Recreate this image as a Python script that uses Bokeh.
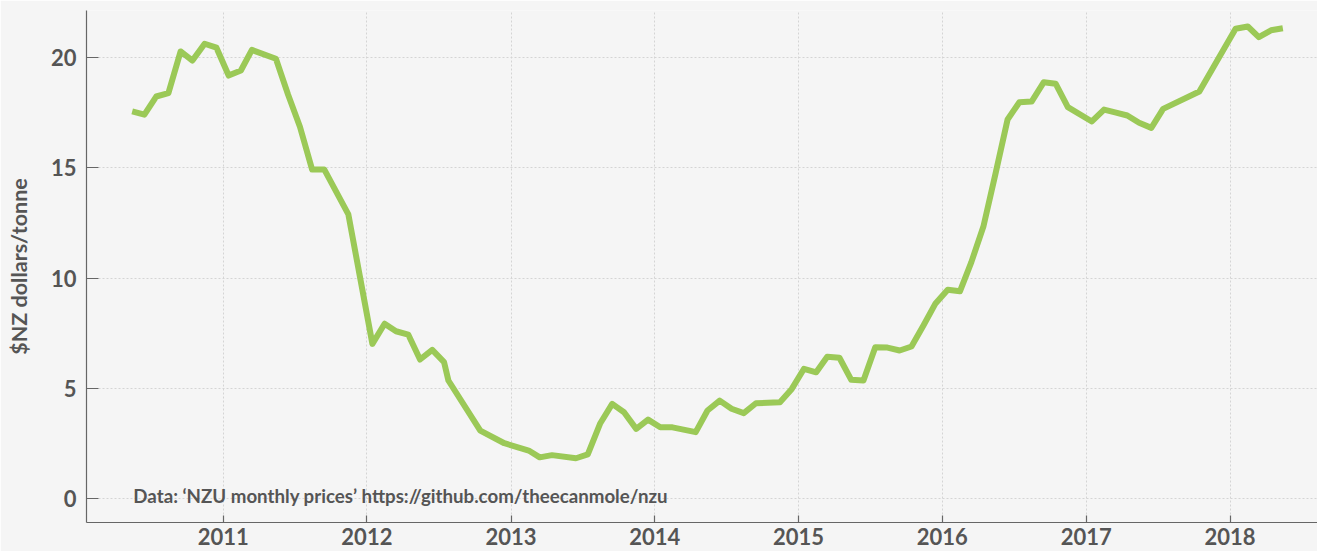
import pandas as pd
from bokeh.plotting import figure
from bokeh.models import Range1d, FixedTicker, DatetimeTickFormatter, Label, ColumnDataSource
from bokeh.embed import file_html
from bokeh.resources import INLINE

# NZU monthly prices ($NZ/tonne)
dates = [
    "2010-05-15", "2010-06-15", "2010-07-15", "2010-08-15", "2010-09-15", "2010-10-15", "2010-11-15", "2010-12-15",
    "2011-01-15", "2011-02-15", "2011-03-15", "2011-05-15", "2011-06-15", "2011-07-15", "2011-08-15", "2011-09-15",
    "2011-11-15",
    "2012-01-15", "2012-02-15", "2012-03-15", "2012-04-15", "2012-05-15", "2012-06-15", "2012-07-15", "2012-07-26",
    "2012-10-15", "2012-12-15",
    "2013-02-15", "2013-03-15", "2013-04-15", "2013-06-15", "2013-07-15", "2013-08-15", "2013-09-15", "2013-10-15",
    "2013-11-15", "2013-12-15",
    "2014-01-15", "2014-02-15", "2014-04-15", "2014-05-15", "2014-06-15", "2014-07-15", "2014-08-15", "2014-09-15",
    "2014-10-15", "2014-11-15", "2014-12-15",
    "2015-01-15", "2015-02-15", "2015-03-15", "2015-04-15", "2015-05-15", "2015-06-15", "2015-07-15", "2015-08-15",
    "2015-09-15", "2015-10-15", "2015-11-15", "2015-12-15",
    "2016-01-15", "2016-02-15", "2016-03-15", "2016-04-15", "2016-05-15", "2016-06-15", "2016-07-15", "2016-08-15",
    "2016-09-15", "2016-10-15", "2016-11-15",
    "2017-01-15", "2017-02-15", "2017-03-15", "2017-04-15", "2017-05-15", "2017-06-15", "2017-07-15", "2017-10-15",
    "2018-01-15", "2018-02-15", "2018-03-15", "2018-04-15", "2018-05-15",
]
prices = [
    17.55, 17.40, 18.22, 18.37, 20.26, 19.85, 20.61, 20.43,
    19.17, 19.40, 20.33, 19.93, 18.30, 16.85, 14.91, 14.91,
    12.88,
    7.02, 7.93, 7.59, 7.44, 6.31, 6.75, 6.19, 5.36,
    3.09, 2.52,
    2.19, 1.88, 1.98, 1.84, 2.01, 3.40, 4.30, 3.92,
    3.17, 3.59,
    3.24, 3.24, 3.02, 4.00, 4.45, 4.08, 3.88, 4.33,
    4.35, 4.38, 4.98,
    5.89, 5.73, 6.44, 6.39, 5.39, 5.36, 6.87, 6.85,
    6.72, 6.90, 7.87, 8.85,
    9.47, 9.40, 10.72, 12.36, 14.70, 17.18, 17.96, 17.99,
    18.87, 18.80, 17.74,
    17.09, 17.63, 17.50, 17.36, 17.03, 16.80, 17.66, 18.45,
    21.29, 21.39, 20.91, 21.22, 21.31,
]
year_ticks = ["2011", "2012", "2013", "2014", "2015", "2016", "2017", "2018"]
y_ticks = [0, 5, 10, 15, 20]
source_note = "Data: \u2018NZU monthly prices\u2019 https://github.com/theecanmole/nzu"
y_title = "$NZ dollars/tonne"

FONT = "Lato"
TEXT_COL = "#555555"
BG = "#f5f5f5"
GREEN = "#9bc957"

src = ColumnDataSource(dict(date=pd.to_datetime(dates), price=prices))

p = figure(
    width=1317, height=551,
    x_axis_type="datetime",
    x_range=Range1d(pd.Timestamp("2010-01-19"), pd.Timestamp("2018-08-11")),
    y_range=Range1d(-1.07, 22.115),
    output_backend="svg", toolbar_location=None,
    background_fill_color=BG, border_fill_color=BG,
    outline_line_color=None,
    min_border_left=86, min_border_top=10, min_border_right=0, min_border_bottom=29,
)

p.line("date", "price", source=src, line_color=GREEN, line_width=6, line_join="round")

tick_ms = [pd.Timestamp(y + "-01-01").value // 10**6 for y in year_ticks]
p.xaxis.ticker = FixedTicker(ticks=tick_ms)
p.xaxis.formatter = DatetimeTickFormatter(years="%Y", months="%Y", days="%Y", hours="%Y")
p.yaxis.ticker = FixedTicker(ticks=y_ticks)

for ax in (p.xaxis, p.yaxis):
    ax.axis_line_color = "#666666"
    ax.axis_line_width = 1.2
    ax.major_tick_line_color = "#666666"
    ax.major_tick_line_width = 1.2
    ax.minor_tick_line_color = None
    ax.major_tick_out = 0
    ax.major_label_text_font = FONT
    ax.major_label_text_font_style = "bold"
    ax.major_label_text_font_size = "22px"
    ax.major_label_text_color = TEXT_COL

p.xaxis.major_tick_in = 7
p.xaxis.major_label_standoff = 5
p.yaxis.major_tick_in = 12
p.yaxis.major_label_standoff = 10

p.yaxis.axis_label = y_title
p.yaxis.axis_label_text_font = FONT
p.yaxis.axis_label_text_font_style = "bold"
p.yaxis.axis_label_text_font_size = "21.5px"
p.yaxis.axis_label_text_color = TEXT_COL
p.yaxis.axis_label_standoff = 16

for g in (p.xgrid, p.ygrid):
    g.grid_line_color = "#d4d4d4"
    g.grid_line_dash = "2 2"
    g.grid_line_width = 1
p.xgrid.ticker = p.xaxis.ticker
p.ygrid.ticker = p.yaxis.ticker

p.add_layout(Label(
    x=pd.Timestamp("2010-05-18"), y=0.15, text=source_note,
    text_font=FONT, text_font_style="bold", text_font_size="18.7px",
    text_color=TEXT_COL, text_baseline="alphabetic", text_align="left",
))

open("out.html", "w").write(file_html(p, INLINE))
